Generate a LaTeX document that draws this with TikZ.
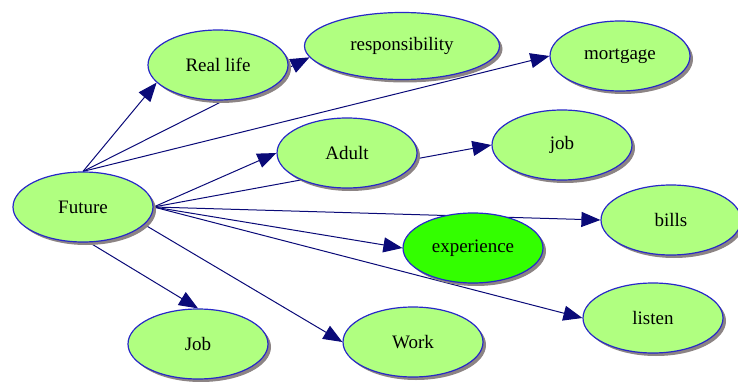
\documentclass[tikz,border=0pt]{standalone}
\usepackage{fontspec}
\setmainfont{Liberation Serif}
\usetikzlibrary{shapes.geometric,shadows,arrows.meta,backgrounds}
\definecolor{leafgreen}{RGB}{176,255,128}
\definecolor{brightgreen}{RGB}{51,255,0}
\definecolor{rimblue}{RGB}{40,40,200}
\definecolor{edgenavy}{RGB}{10,10,120}
\definecolor{shadowgray}{RGB}{140,132,132}

\begin{document}
\begin{tikzpicture}[x=1pt,y=-1pt,
    topic/.style={ellipse, draw=rimblue, line width=1.2pt, fill=leafgreen,
        minimum width=140pt, minimum height=70pt, inner sep=0pt,
        font=\fontsize{19}{22}\selectfont,
        drop shadow={shadow xshift=3pt, shadow yshift=-3pt, fill=shadowgray, opacity=1}},
    link/.style={draw=edgenavy, line width=1pt, -{Triangle[length=19pt,width=15pt]}}]
    \useasboundingbox (0,0) rectangle (738,382);
    % nodes
    \node[topic] (future) at (83,207) {Future};
    \node[topic] (reallife) at (218,65) {Real life};
    \node[topic, minimum width=195pt, minimum height=67pt] (responsibility) at (402,46) {responsibility};
    \node[topic] (mortgage) at (620,56) {mortgage};
    \node[topic] (adult) at (347,153) {Adult};
    \node[topic] (job) at (562,145) {job};
    \node[topic] (bills) at (671,220) {bills};
    \node[topic, fill=brightgreen] (experience) at (473,248) {experience};
    \node[topic] (listen) at (653,318) {listen};
    \node[topic] (bigjob) at (198,344) {Job};
    \node[topic] (work) at (413,342) {Work};
    % links from Future
    \begin{pgfonlayer}{background}
    \draw[link] (future.north) -- (reallife.196);
    \draw[link] (future.north) -- (responsibility.187);
    \draw[link] (future.north) -- (mortgage.west);
    \draw[link] (future.east) -- (adult.west);
    \draw[link] (future.east) -- (job.west);
    \draw[link] (future.east) -- (bills.west);
    \draw[link] (future.east) -- (experience.west);
    \draw[link] (future.east) -- (listen.west);
    \draw[link] (future.-80) -- (bigjob.north);
    \draw[link] (future.-16) -- (work.west);
    \end{pgfonlayer}
\end{tikzpicture}
\end{document}
